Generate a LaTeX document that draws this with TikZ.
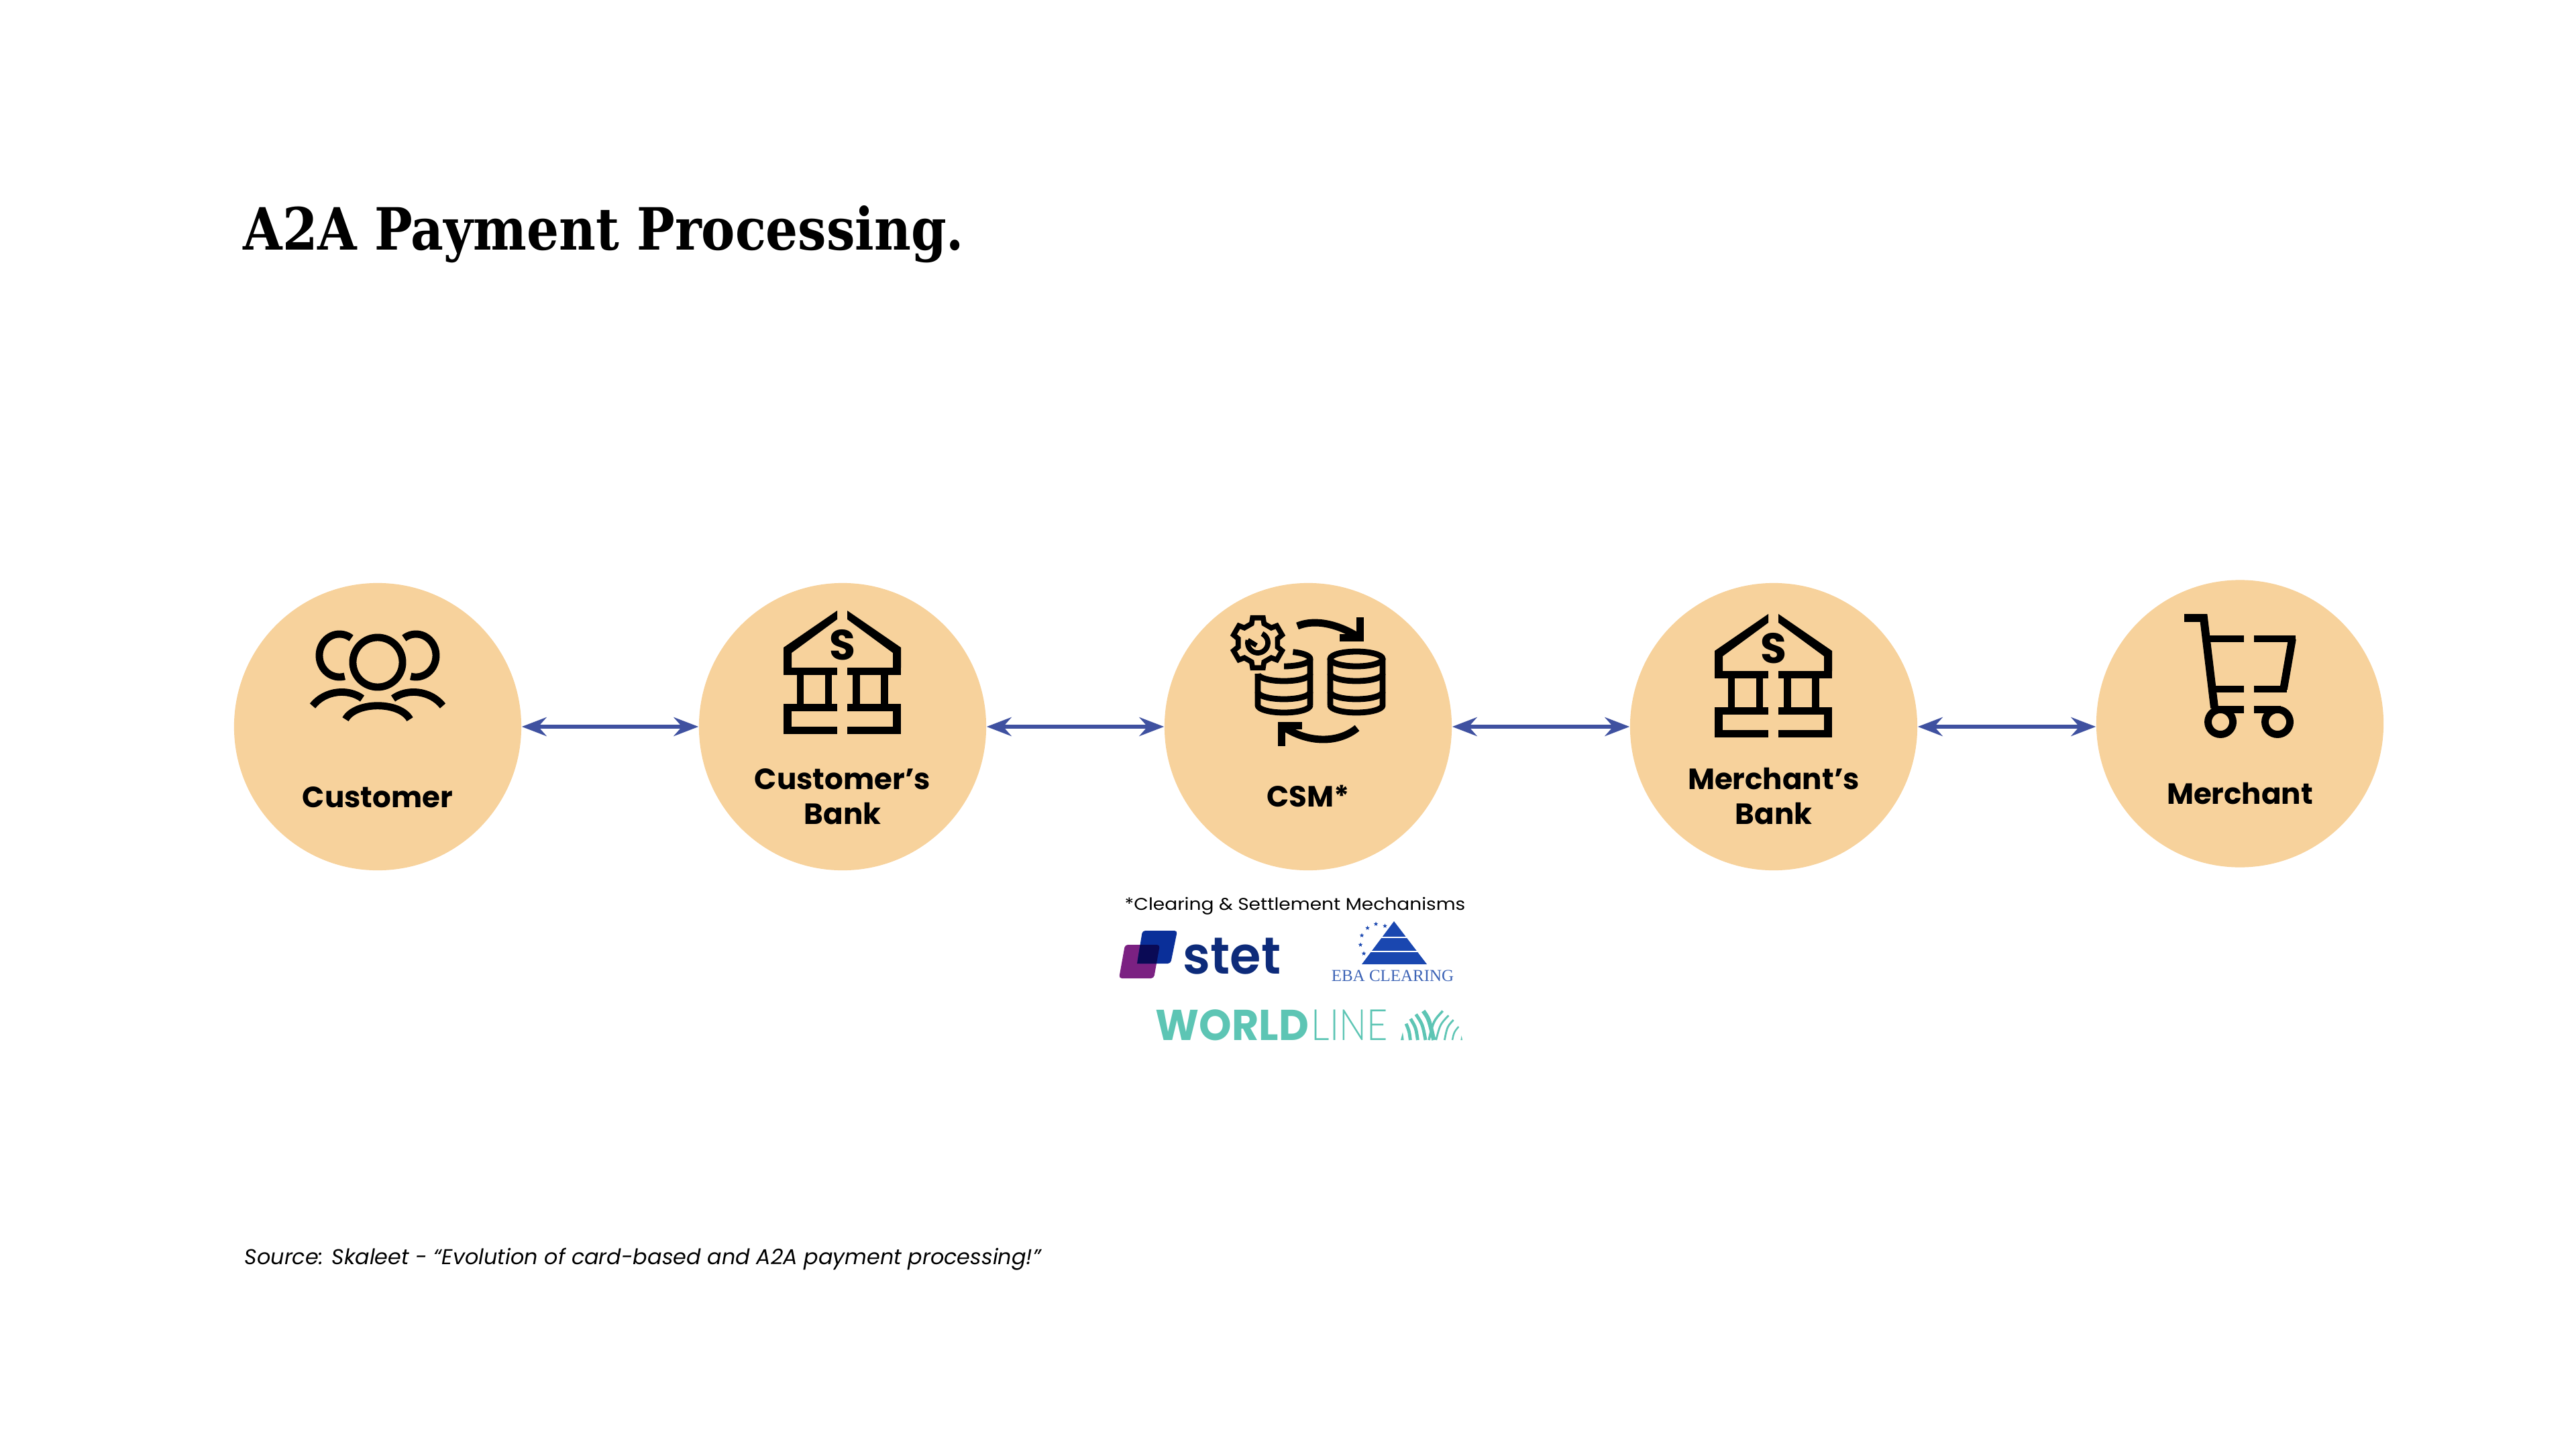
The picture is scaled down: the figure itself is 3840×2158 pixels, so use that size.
\documentclass[tikz,border=0pt]{standalone}
\usepackage{fontspec}
\usetikzlibrary{arrows.meta,shapes.geometric}
\setmainfont{Poppins}
\newfontfamily\titlefont{DejaVu Serif Condensed}
\newfontfamily\ebafont{Liberation Serif}
\newfontfamily\lightfont{Lato Light}
\newfontfamily\mediumfont{Poppins SemiBold}
\definecolor{peach}{HTML}{F7D29C}
\definecolor{arrowblue}{HTML}{3F51A0}
\definecolor{stetpurple}{HTML}{7B2182}
\definecolor{stetblue}{HTML}{0A2F99}
\definecolor{stetdark}{HTML}{0A0A55}
\definecolor{stettext}{HTML}{0D2B7A}
\definecolor{ebablue}{HTML}{1A47B0}
\definecolor{ebatext}{HTML}{3B62B5}
\definecolor{wlgreen}{HTML}{5DC5B4}
\newcommand{\parc}[6]{plot[domain=#5:#6,samples=40] ({#1+#3*cos(\x)},{#2+#4*sin(\x)})}
\newcommand{\wlband}[7]{\draw[wlgreen,line width=#7pt] (#1,#2) .. controls (#3,#4) .. (#5,#6);}
\tikzset{
  x=0.01cm,y=-0.01cm,
  stop/.style={circle,fill=peach,draw=none,minimum size=4.28cm,inner sep=0pt},
  lab/.style={font=\fontsize{12.4}{14}\selectfont\bfseries,anchor=base,inner sep=0pt,text=black},
  link/.style={arrowblue,line width=1.5pt,{Stealth[length=10.5pt,width=8pt,inset=3.5pt]}-{Stealth[length=10.5pt,width=8pt,inset=3.5pt]}},
  ico/.style={black,line width=3.1pt,line cap=butt,line join=miter},
  dbline/.style={black,line width=2.5pt,line cap=butt,line join=miter},
}
\newcommand{\bankicon}[2]{%
 \begin{scope}[shift={(#1,#2)}]
  \fill (1248,910) -- (1168,965) -- (1168,995) -- (1180,995) -- (1180,973) -- (1248,923) -- cycle;
  \fill (1263,910) -- (1343,965) -- (1343,995) -- (1331,995) -- (1331,973) -- (1263,923) -- cycle;
  \fill (1168,995) rectangle (1248,1006);
  \fill (1263,995) rectangle (1343,1006);
  \fill (1188,1006) rectangle (1198,1049);
  \fill (1230,1006) rectangle (1240,1049);
  \fill (1271,1006) rectangle (1282,1049);
  \fill (1313,1006) rectangle (1324,1049);
  \fill (1168,1049) rectangle (1248,1060);
  \fill (1263,1049) rectangle (1343,1060);
  \fill (1168,1060) rectangle (1180,1094);
  \fill (1331,1060) rectangle (1343,1094);
  \fill (1168,1083) rectangle (1248,1094);
  \fill (1263,1083) rectangle (1343,1094);
  \node[inner sep=0pt,anchor=base,font=\fontsize{18}{18}\selectfont\bfseries] at (1255.5,983) {S};
 \end{scope}}
\begin{document}
\begin{tikzpicture}
\useasboundingbox (0,0) rectangle (3840,2158);
% title
\node[anchor=base west,inner sep=0pt,font=\titlefont\fontsize{24.7}{30}\selectfont\bfseries] (title) at (362,373) {\scalebox{0.965}[1]{A2A Payment Processing.}};
% circles
\node[stop] (c1) at (563,1083) {};
\node[stop] (c2) at (1256,1083) {};
\node[stop] (c3) at (1950,1083) {};
\node[stop] (c4) at (2644,1083) {};
\node[stop] (c5) at (3339,1078.5) {};
% connectors
\draw[link] (c1.east) -- (c2.west);
\draw[link] (c2.east) -- (c3.west);
\draw[link] (c3.east) -- (c4.west);
\draw[link] (c4.east) -- (c4.east -| c5.west);
% labels
\node[lab] (l1) at (563,1203) {Customer};
\node[lab] (l2a) at (1256,1176) {Customer’s};
\node[lab] (l2b) at (1256,1228) {Bank};
\node[lab] (l3) at (1950,1202) {CSM*};
\node[lab] (l4a) at (2644,1176) {Merchant’s};
\node[lab] (l4b) at (2644,1228) {Bank};
\node[lab] (l5) at (3339,1198) {Merchant};
% customer icon
\draw[ico] (563,987) ellipse [x radius=0.37cm,y radius=0.37cm];
\draw[ico] \parc{506}{977}{30}{32}{75}{306};
\draw[ico] \parc{620}{977}{30}{32}{-126}{105};
\draw[ico] (515,1072) .. controls (530,1045) and (596,1045) .. (611,1072);
\draw[ico] (466,1052) .. controls (485,1028) and (520,1026) .. (540,1041);
\draw[ico] (660,1052) .. controls (641,1028) and (606,1026) .. (586,1041);
% banks
\bankicon{0}{0}
\bankicon{1388}{5}
% CSM gear
\draw[black,line width=2.2pt,line join=miter] ({1875+30*cos(-108)},{958+30*sin(-108)})
  \foreach \t in {-90,-30,30,90,150,210}{
   -- ({1875+30*cos(\t-18)},{958+30*sin(\t-18)})
   -- ({1875+38*cos(\t-12)},{958+38*sin(\t-12)})
   -- ({1875+38*cos(\t+12)},{958+38*sin(\t+12)})
   -- ({1875+30*cos(\t+18)},{958+30*sin(\t+18)})
  } -- cycle;
\draw[black,line width=2.2pt] \parc{1875}{958}{15}{15}{-65}{195};
\draw[black,line width=2pt] (1860,954) -- (1873,962);
% left db
\draw[dbline] \parc{1914}{982}{39}{11}{-70}{0} -- (1953,1051) \parc{1914}{1051}{39}{11}{0}{180} -- (1875,1004);
\draw[dbline] \parc{1914}{982}{39}{11}{90}{0};
\draw[dbline] \parc{1914}{1004}{39}{11}{180}{0};
\draw[dbline] \parc{1914}{1031}{39}{11}{180}{0};
% right db
\draw[dbline] (2022,982) ellipse [x radius=0.39cm,y radius=0.11cm];
\draw[dbline] (1983,982) -- (1983,1051) \parc{2022}{1051}{39}{11}{180}{0} -- (2061,982);
\draw[dbline] \parc{2022}{1004}{39}{11}{180}{0};
\draw[dbline] \parc{2022}{1031}{39}{11}{180}{0};
% cycle arrows
\draw[ico] (1934,933) .. controls (1960,922) and (1995,930) .. (2026,950);
\draw[ico] (2027.5,920) -- (2027.5,950.5) -- (1997,950.5);
\draw[ico] (2023,1085) .. controls (1995,1108) and (1950,1108) .. (1913,1083);
\draw[ico] (1910.5,1112) -- (1910.5,1081.5) -- (1941,1081.5);
% cart
\draw[ico,line width=3.4pt] (3256,921) -- (3285,921) -- (3301,1055);
\fill (3290,947) rectangle (3345,957);
\fill (3360,947) rectangle (3422,957);
\draw[ico,line width=3.3pt] (3417,952) -- (3404,1027);
\fill (3300,1022) rectangle (3345,1032);
\fill (3360,1022) rectangle (3409,1032);
\fill (3297,1052) rectangle (3345,1063);
\fill (3360,1052) rectangle (3400,1063);
\draw[ico] (3310,1076) circle [radius=0.185cm];
\draw[ico] (3395,1076) circle [radius=0.185cm];
% footnote
\node[anchor=base west,inner sep=0pt,font=\fontsize{7.2}{9}\selectfont] (fn) at (1676,1356) {\scalebox{1.108}[1]{*Clearing \& Settlement Mechanisms}};
% stet
\fill[stetpurple,rounded corners=1.2pt] (1677,1408) -- (1729,1408) -- (1720,1458) -- (1668,1458) -- cycle;
\fill[stetblue,rounded corners=1.2pt] (1703,1387) -- (1755,1387) -- (1745,1436) -- (1695,1436) -- cycle;
\begin{scope}
 \clip (1703,1387) -- (1755,1387) -- (1745,1436) -- (1695,1436) -- cycle;
 \fill[stetdark,rounded corners=1.2pt] (1677,1408) -- (1729,1408) -- (1720,1458) -- (1668,1458) -- cycle;
\end{scope}
\node[anchor=base west,inner sep=0pt,text=stettext,font=\mediumfont\fontsize{22}{24}\selectfont] (stet) at (1763,1451) {\scalebox{0.97}[1]{stet}};
% eba
\fill[ebablue] (2078,1373) -- (2127,1437) -- (2030,1437) -- cycle;
\fill[white] (2040,1395.5) rectangle (2120,1397.5);
\fill[white] (2040,1417) rectangle (2120,1419);
\foreach \sx/\sy in {2064.5/1380,2051/1377,2038.5/1383,2030/1394,2028/1408,2033/1421}
  \node[star,star points=5,star point ratio=2.4,fill=ebablue,inner sep=0pt,minimum size=0.07cm] at (\sx,\sy) {};
\node[anchor=base,inner sep=0pt,text=ebatext,font=\ebafont\fontsize{7.1}{9}\selectfont] (eba) at (2076,1462) {EBA CLEARING};
% worldline
\node[anchor=base west,inner sep=0pt,text=wlgreen,font=\fontsize{18.3}{20}\selectfont\bfseries] (wl1) at (1722,1550) {\scalebox{0.96}[1]{WORLD}};
\node[anchor=base west,inner sep=0pt,text=wlgreen,font=\lightfont\fontsize{18.3}{20}\selectfont] (wl2) at (1954,1550) {\scalebox{0.84}[1]{LINE}};
\begin{scope}[shift={(2080,1495)},scale=1/3]
 \fill[wlgreen] (24,165) -- (38,165) -- (33,130) -- cycle;
 \fill[wlgreen] (292,165) -- (300,165) -- (296,145) -- cycle;
 \wlband{48}{92}{62}{125}{67}{165}{1.4}
 \wlband{68}{70}{92}{110}{100}{165}{1.4}
 \wlband{92}{50}{122}{95}{135}{165}{1.4}
 \wlband{125}{35}{150}{70}{172}{165}{1.8}
 \wlband{212}{35}{170}{80}{150}{165}{1}
 \wlband{238}{55}{200}{95}{182}{165}{0.8}
 \wlband{260}{75}{232}{105}{220}{165}{0.8}
 \wlband{283}{105}{262}{130}{255}{165}{0.7}
\end{scope}
% source
\node[anchor=base west,inner sep=0pt,font=\fontsize{9.07}{12}\selectfont\itshape] (src) at (364,1884) {Source: Skaleet - “Evolution of card-based and A2A payment processing!”};
\end{tikzpicture}
\end{document}
